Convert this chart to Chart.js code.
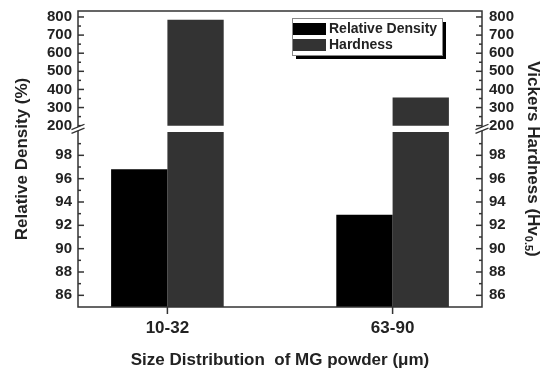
<!DOCTYPE html>
<html>
<head>
<meta charset="utf-8">
<script src="https://cdn.jsdelivr.net/npm/chart.js@4.4.0/dist/chart.umd.min.js"></script>
<style>
    body { margin: 0; background: #fff; }
    #wrap { width: 544px; height: 374px; }
</style>
</head>
<body>
<div id="wrap"><canvas id="sizeChart" width="544" height="374"></canvas></div>
<script>
    const sizeLabels = ['10-32', '63-90'];
    const relativeDensity = [96.8, 92.9];
    const hardness = [785, 355];
    const densityTicks = [86, 88, 90, 92, 94, 96, 98];
    const hardnessTicks = [200, 300, 400, 500, 600, 700, 800];

    const FONT = "'Liberation Sans', Arial, sans-serif";
    const TEXT = '#222';
    const AXIS = '#333';
    const BREAK_AT = 200;

    function points(values) {
        return values.map((v, i) => ({x: i, y: v}));
    }

    function yScale(position, weight, stackWeight, min, max, tickList) {
        return {
            type: 'linear',
            position: position,
            stack: position,
            stackWeight: stackWeight,
            weight: weight,
            min: min,
            max: max,
            stacked: false,
            clip: true,
            afterBuildTicks: s => { s.ticks = tickList.map(v => ({value: v})); },
            afterFit: s => {
                s.width = position === 'left' ? 78 : 62;
                s.paddingTop = 0;
                s.paddingBottom = 0;
            },
            grid: {display: false, drawTicks: false},
            border: {display: false},
            ticks: {
                color: TEXT,
                autoSkip: false,
                padding: position === 'left' ? 6 : 7,
                font: {family: FONT, size: 15, weight: 'bold'}
            }
        };
    }

    function tick(ctx, x1, y1, x2, y2) {
        ctx.beginPath();
        ctx.moveTo(x1, y1);
        ctx.lineTo(x2, y2);
        ctx.stroke();
    }

    // frame, inward ticks, break marks, legend and the two axis titles
    const brokenAxes = {
        id: 'brokenAxes',
        afterDraw(chart) {
            const {ctx, chartArea: a, scales} = chart;
            ctx.save();
            ctx.strokeStyle = AXIS;
            ctx.lineWidth = 1.5;
            ctx.strokeRect(a.left, a.top, a.right - a.left, a.bottom - a.top);

            [['yLo', a.left, 1], ['yHi', a.left, 1], ['yLoR', a.right, -1], ['yHiR', a.right, -1]].forEach(([id, x, dir]) => {
                const s = scales[id];
                const vals = s.ticks.map(t => t.value);
                const step = vals[1] - vals[0];
                vals.forEach(v => {
                    const y = s.getPixelForValue(v);
                    tick(ctx, x, y, x + 6 * dir, y);
                });
                for (let v = vals[0] - step / 2; v < s.max; v += step) {
                    if (v <= s.min) continue;
                    const y = s.getPixelForValue(v);
                    tick(ctx, x, y, x + 3 * dir, y);
                }
            });

            scales.x.ticks.forEach(t => {
                const x = scales.x.getPixelForValue(t.value);
                tick(ctx, x, a.bottom, x, a.bottom + 7);
            });

            const c = (scales.yHi.getPixelForValue(BREAK_AT) + scales.yLo.top) / 2;
            [a.left, a.right].forEach(x => {
                ctx.fillStyle = '#fff';
                ctx.beginPath();
                ctx.moveTo(x - 6, c + 0.8);
                ctx.lineTo(x + 6, c - 4.2);
                ctx.lineTo(x + 6, c - 0.8);
                ctx.lineTo(x - 6, c + 4.2);
                ctx.closePath();
                ctx.fill();
                ctx.lineWidth = 1.3;
                tick(ctx, x - 6.5, c + 0.8, x + 6.5, c - 4.6);
                tick(ctx, x - 6.5, c + 4.6, x + 6.5, c - 0.8);
            });

            // legend
            const lx = a.right - 190, ly = a.top + 7, lw = 150, lh = 37;
            ctx.fillStyle = '#000';
            ctx.fillRect(lx + 4, ly + 4, lw, lh);
            ctx.fillStyle = '#fff';
            ctx.fillRect(lx, ly, lw, lh);
            ctx.strokeStyle = '#888';
            ctx.lineWidth = 1;
            ctx.strokeRect(lx + 0.5, ly + 0.5, lw, lh);
            ctx.font = 'bold 14px ' + FONT;
            ctx.textAlign = 'left';
            ctx.textBaseline = 'middle';
            chart.data.datasets.slice(0, 2).forEach((ds, i) => {
                const sy = ly + 5 + i * 16;
                ctx.fillStyle = ds.backgroundColor;
                ctx.fillRect(lx + 1, sy, 33, 12);
                ctx.fillStyle = TEXT;
                ctx.fillText(ds.label, lx + 37, sy + 6.5);
            });

            // y titles span both segments
            const mid = (a.top + a.bottom) / 2;
            ctx.fillStyle = TEXT;
            ctx.font = 'bold 17px ' + FONT;
            ctx.textAlign = 'center';
            ctx.save();
            ctx.translate(22, mid);
            ctx.rotate(-Math.PI / 2);
            ctx.fillText('Relative Density (%)', 0, 0);
            ctx.restore();

            const main = 'Vickers Hardness (Hv', sub = '0.5', end = ')';
            ctx.font = 'bold 17px ' + FONT;
            const w1 = ctx.measureText(main).width, w3 = ctx.measureText(end).width;
            ctx.font = 'bold 11px ' + FONT;
            const w2 = ctx.measureText(sub).width;
            ctx.save();
            ctx.translate(533, mid);
            ctx.rotate(Math.PI / 2);
            ctx.textAlign = 'left';
            let tx = -(w1 + w2 + w3) / 2;
            ctx.font = 'bold 17px ' + FONT;
            ctx.fillText(main, tx, 0);
            ctx.font = 'bold 11px ' + FONT;
            ctx.fillText(sub, tx + w1, 5);
            ctx.font = 'bold 17px ' + FONT;
            ctx.fillText(end, tx + w1 + w2, 0);
            ctx.restore();

            ctx.restore();
        }
    };

    const ctx = document.getElementById('sizeChart').getContext('2d');
    new Chart(ctx, {
        type: 'bar',
        data: {
            datasets: [
                {label: 'Relative Density', data: points(relativeDensity), yAxisID: 'yLo', stack: 'density', base: 85, backgroundColor: '#000'},
                {label: 'Hardness', data: points(hardness), yAxisID: 'yLo', stack: 'hardness', base: 85, backgroundColor: '#333'},
                {label: 'Hardness', data: points(hardness), yAxisID: 'yHi', stack: 'hardness', base: BREAK_AT, backgroundColor: '#333'}
            ]
        },
        options: {
            responsive: false,
            animation: false,
            categoryPercentage: 0.5,
            barPercentage: 1.0,
            layout: {padding: {top: 11, left: 0, right: 0, bottom: 0}},
            scales: {
                x: {
                    type: 'linear',
                    offset: false,
                    min: -0.397,
                    max: 1.397,
                    afterBuildTicks: s => { s.ticks = sizeLabels.map((l, i) => ({value: i})); },
                    afterFit: s => {
                        s.height = 67;
                        s.paddingLeft = 0;
                        s.paddingRight = 0;
                    },
                    grid: {display: false, drawTicks: false},
                    border: {display: false},
                    ticks: {
                        color: TEXT,
                        autoSkip: false,
                        maxRotation: 0,
                        padding: 11,
                        font: {family: FONT, size: 17, weight: 'bold'},
                        callback: (v, i) => sizeLabels[i]
                    },
                    title: {
                        display: true,
                        text: 'Size Distribution  of MG powder (\u03bcm)',
                        color: TEXT,
                        font: {family: FONT, size: 17, weight: 'bold'},
                        padding: {top: 0, bottom: 3}
                    }
                },
                yLo: yScale('left', 0, 175, 85, 100, densityTicks),
                yHi: yScale('left', 1, 121, 165, 833, hardnessTicks),
                yHiR: yScale('right', 0, 121, 165, 833, hardnessTicks),
                yLoR: yScale('right', 1, 175, 85, 100, densityTicks)
            },
            plugins: {
                legend: {display: false},
                tooltip: {enabled: false}
            }
        },
        plugins: [brokenAxes]
    });
</script>
</body>
</html>
